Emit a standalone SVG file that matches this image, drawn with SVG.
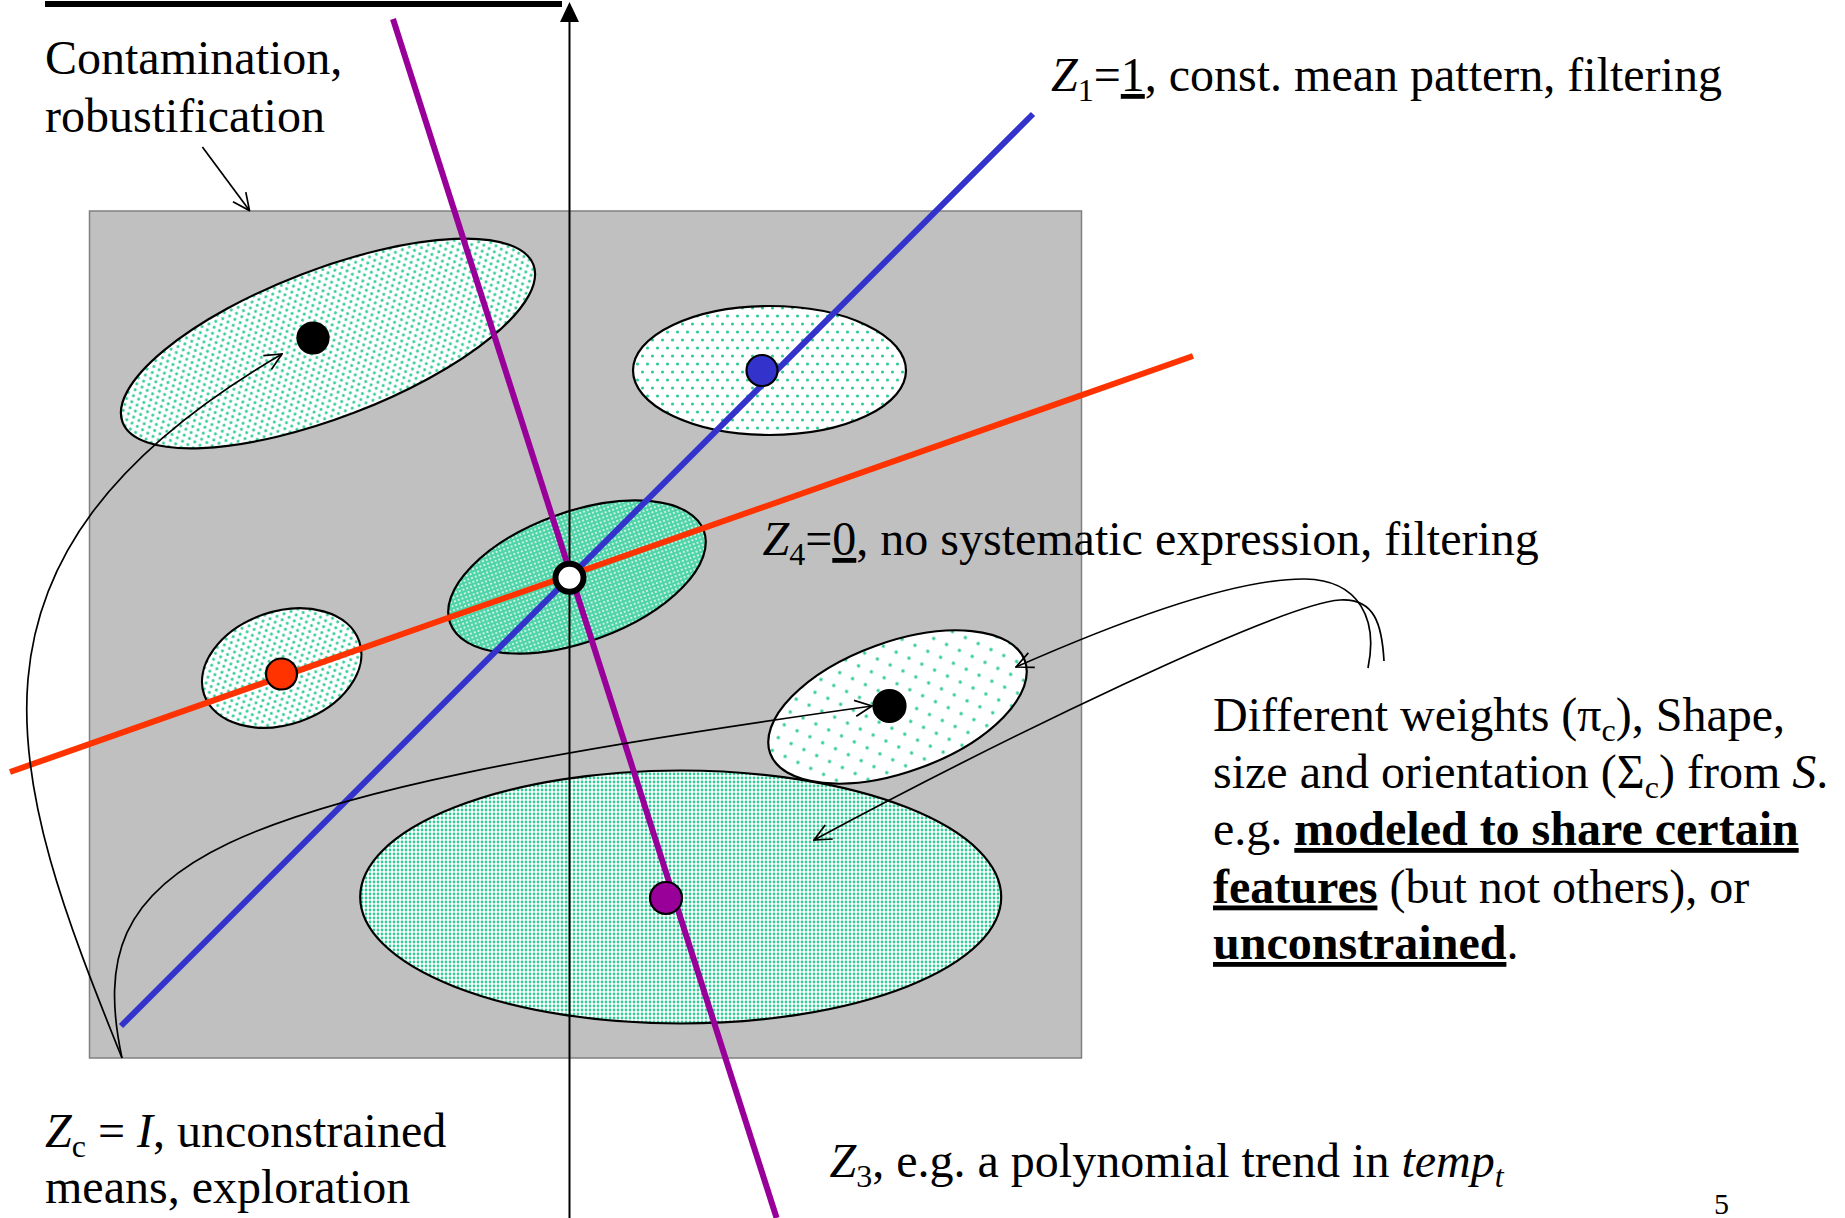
<svg xmlns="http://www.w3.org/2000/svg" width="1845" height="1218" viewBox="0 0 1845 1218">
<defs>
<style>
.t{font-family:"Liberation Serif","Times New Roman",serif;font-size:48px;fill:#000}
.sub{font-size:32px}
.i{font-style:italic}
.b{font-weight:bold}
.u{text-decoration:underline}
.ell{stroke:#000;stroke-width:2.2}
.thin{fill:none;stroke:#000;stroke-width:1.7}
.dot{stroke:#000;stroke-width:2.2}
</style>
<pattern id="pSparse" patternUnits="userSpaceOnUse" width="20" height="20">
<rect width="20" height="20" fill="#fff"/>
<circle cx="5" cy="5" r="1.7" fill="#33cc99"/>
<circle cx="15" cy="15" r="1.7" fill="#33cc99"/>
</pattern>
<pattern id="pMed" patternUnits="userSpaceOnUse" width="10" height="16">
<rect width="10" height="16" fill="#fff"/>
<circle cx="2.5" cy="4" r="1.6" fill="#33cc99"/>
<circle cx="7.5" cy="12" r="1.6" fill="#33cc99"/>
</pattern>
<pattern id="pFine" patternUnits="userSpaceOnUse" width="7.4" height="10">
<rect width="7.4" height="10" fill="#fff"/>
<circle cx="1.85" cy="2.5" r="1.5" fill="#33cc99"/>
<circle cx="5.55" cy="7.5" r="1.5" fill="#33cc99"/>
</pattern>
<pattern id="pDense" patternUnits="userSpaceOnUse" width="4" height="4">
<rect width="4" height="4" fill="#fff"/>
<circle cx="2" cy="2" r="1.4" fill="#33cc99"/>
</pattern>
<pattern id="pSolid" patternUnits="userSpaceOnUse" width="4" height="4">
<rect width="4" height="4" fill="#4fd4a8"/>
<circle cx="2" cy="2" r="0.9" fill="#fff"/>
</pattern>
<marker id="open" viewBox="0 0 20 20" refX="19" refY="10" markerWidth="20" markerHeight="20" markerUnits="userSpaceOnUse" orient="auto">
<path d="M2,2 L19,10 L2,18" fill="none" stroke="#000" stroke-width="1.7"/>
</marker>
</defs>

<rect width="1845" height="1218" fill="#fff"/>

<g id="space">
<rect x="89.5" y="211" width="992" height="847" fill="#c0c0c0" stroke="#808080" stroke-width="1.5"/>
</g>

<g id="cluster-topleft">
<ellipse class="ell" cx="328" cy="343.5" rx="220" ry="74" transform="rotate(-21 328 343.5)" fill="url(#pFine)"/>
</g>
<g id="cluster-topright">
<ellipse class="ell" cx="769.5" cy="370.5" rx="136.5" ry="64.5" fill="url(#pMed)"/>
</g>
<g id="cluster-center">
<ellipse class="ell" cx="577" cy="577" rx="135" ry="65" transform="rotate(-20 577 577)" fill="url(#pSolid)"/>
</g>
<g id="cluster-left">
<ellipse class="ell" cx="281.7" cy="668" rx="82" ry="56.5" transform="rotate(-19 281.7 668)" fill="url(#pFine)"/>
</g>
<g id="cluster-bottom">
<ellipse class="ell" cx="680.7" cy="897" rx="320.5" ry="126.5" fill="url(#pDense)"/>
</g>
<g id="cluster-right">
<ellipse class="ell" cx="897.5" cy="707" rx="135.5" ry="65" transform="rotate(-20 897.5 707)" fill="url(#pSparse)"/>
</g>

<g id="axis">
<line x1="569.5" y1="18" x2="569.5" y2="1218" stroke="#000" stroke-width="2"/>
<polygon points="569.5,2 560,22 579,22" fill="#000"/>
<line x1="45" y1="4" x2="562" y2="4" stroke="#000" stroke-width="6"/>
</g>

<g id="lines">
<line id="z3" x1="393" y1="19" x2="776.6" y2="1218" stroke="#990099" stroke-width="6"/>
<line id="z1" x1="1033" y1="114" x2="121" y2="1026" stroke="#3333cc" stroke-width="6"/>
<line id="z2" x1="10" y1="772" x2="1193" y2="356" stroke="#ff3300" stroke-width="6"/>
</g>

<g id="connectors">
<line class="thin" x1="202.4" y1="147" x2="249.5" y2="210.6" marker-end="url(#open)"/>
<path class="thin" d="M122,1058 C10,780 -70,560 282,354" marker-end="url(#open)"/>
<path class="thin" d="M122,1058 C80,860 200,800 872,706" marker-end="url(#open)"/>
<path class="thin" d="M1368,668 C1378,620 1360,580 1305,579 C1230,578 1100,630 1016,667" marker-end="url(#open)"/>
<path class="thin" d="M1384,661 C1382,625 1375,598 1340,600 C1280,604 1000,740 814,840" marker-end="url(#open)"/>
</g>

<g id="points">
<circle class="dot" cx="313" cy="338" r="15.5" fill="#000"/>
<circle class="dot" cx="762" cy="370.5" r="15.5" fill="#3333cc"/>
<circle class="dot" cx="281.5" cy="674" r="15.5" fill="#ff3300"/>
<circle class="dot" cx="889.5" cy="706" r="16" fill="#000"/>
<circle class="dot" cx="666" cy="898" r="16" fill="#990099"/>
<circle cx="569.5" cy="577.7" r="14" fill="#fff" stroke="#000" stroke-width="6"/>
</g>

<g id="labels">
<text class="t" x="45" y="74">Contamination,</text>
<text class="t" x="45" y="132">robustification</text>
<text class="t" x="1051" y="91"><tspan class="i">Z</tspan><tspan class="sub" dy="10">1</tspan><tspan dy="-10">=</tspan><tspan class="u">1</tspan>, const. mean pattern, filtering</text>
<text class="t" x="762.5" y="555"><tspan class="i">Z</tspan><tspan class="sub" dy="10">4</tspan><tspan dy="-10">=</tspan><tspan class="u">0</tspan>, no systematic expression, filtering</text>
<text class="t" x="1213" y="731">Different weights (π<tspan class="sub" dy="10">c</tspan><tspan dy="-10">), Shape,</tspan></text>
<text class="t" x="1213" y="788">size and orientation (Σ<tspan class="sub" dy="10">c</tspan><tspan dy="-10">) from </tspan><tspan class="i">S</tspan>.</text>
<text class="t" x="1213" y="845">e.g. <tspan class="b u">modeled to share certain</tspan></text>
<text class="t" x="1213" y="902.5"><tspan class="b u">features</tspan> (but not others), or</text>
<text class="t" x="1213" y="959"><tspan class="b u">unconstrained</tspan>.</text>
<text class="t" x="45" y="1147"><tspan class="i">Z</tspan><tspan class="sub" dy="10">c</tspan><tspan dy="-10"> = </tspan><tspan class="i">I</tspan>, unconstrained</text>
<text class="t" x="45" y="1203">means, exploration</text>
<text class="t" x="829.5" y="1177"><tspan class="i">Z</tspan><tspan class="sub" dy="10">3</tspan><tspan dy="-10">, e.g. a polynomial trend in </tspan><tspan class="i">temp</tspan><tspan class="sub i" dy="10">t</tspan></text>
<text class="t" x="1714" y="1214" style="font-size:30px">5</text>
</g>
</svg>
